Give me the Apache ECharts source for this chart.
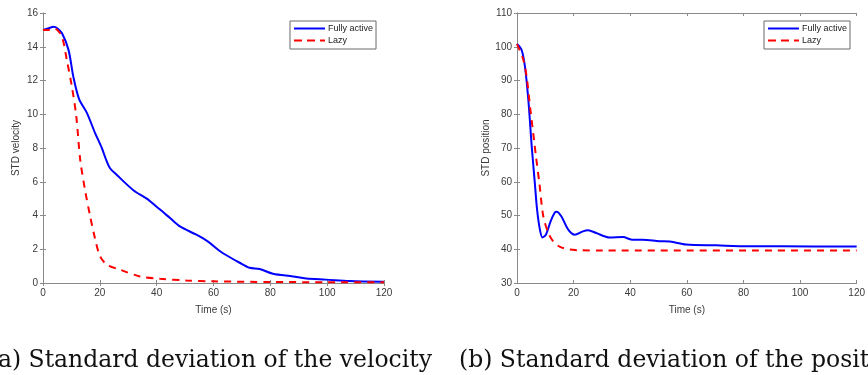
<!DOCTYPE html>
<html>
<head>
<meta charset="utf-8">
<script src="https://cdn.jsdelivr.net/npm/echarts@6/dist/echarts.min.js"></script>
<style>
html,body{margin:0;padding:0;background:#fff;}
#chart{width:868px;height:375px;}
</style>
</head>
<body>
<div id="chart"></div>
<script>
// ---- Data ----
var velActiveT = [0,2,3.7,5,6.7,9,10.7,12.7,15.4,18.3,20.7,22,23.6,26,31.8,36.5,41.2,44.7,48.2,54,58.1,62.2,65,69.2,72.7,76.2,80.9,88,92.6,99.6,107.8,120];
var velActiveV = [15.0,15.1,15.18,15.1,14.8,13.8,12.2,10.9,10.1,8.9,8.0,7.4,6.8,6.4,5.5,5.0,4.35,3.85,3.35,2.86,2.45,1.9,1.6,1.2,0.9,0.83,0.55,0.39,0.26,0.2,0.12,0.07];
var velLazyT = [0,2,3.7,5,6.7,8.4,10.2,11.7,13.1,14.8,16.6,18.4,20.1,22.5,27.1,34.1,41.2,50.5,60,80,100,120];
var velLazyV = [15.0,15.0,15.1,15.0,14.6,13.2,11.6,9.9,7.3,5.5,3.95,2.57,1.58,1.08,0.79,0.39,0.25,0.15,0.1,0.06,0.05,0.05];

var posActiveT = [0,1.6,2.8,4,5.2,6.3,7.1,8.1,9,10.2,11.9,13.3,14,15.7,18.1,20.4,23.3,25.1,28,32.7,37.4,40.9,44.4,50.3,54,59.7,70.3,82,105,120];
var posActiveV = [100.8,99.1,94.2,84.3,70.5,59.6,51.7,45.8,43.5,44.3,48.3,50.8,51.1,49.7,45.8,44.3,45.3,45.6,44.8,43.5,43.6,42.8,42.8,42.4,42.3,41.4,41.15,40.9,40.85,40.85];
var posLazyT = [0,2.2,3.4,4.6,6,6.7,7.9,9.3,11.1,12.8,15.2,18.7,22.2,30,120];
var posLazyV = [100.8,96.2,91.2,82.3,72.5,67.5,59.6,49.7,44.8,42.3,40.7,39.9,39.7,39.6,39.6];

var seriesNames = ['Fully active','Lazy'];
var xTitle = 'Time (s)';
var yTitles = ['STD velocity','STD position'];
var captions = ['(a) Standard deviation of the velocity','(b) Standard deviation of the position'];
var xTicks = {min:0,max:120,interval:20};
var yTicksVel = {min:0,max:16,interval:2};
var yTicksPos = {min:30,max:110,interval:10};

function pairs(t,v){ return t.map(function(x,i){return [x,v[i]];}); }

var axisGray = '#8a8a8a';
var labelColor = '#3a3a3a';
var font = 'Liberation Sans, Arial, sans-serif';

function xAxes(gi){
  return [
    {type:'value',gridIndex:gi,position:'bottom',min:xTicks.min,max:xTicks.max,interval:xTicks.interval,
     name:xTitle,nameLocation:'middle',nameGap:22,nameTextStyle:{fontSize:10,color:labelColor,fontFamily:font},
     axisLine:{show:true,lineStyle:{color:axisGray,width:1}},
     axisTick:{show:true,inside:true,length:3,lineStyle:{color:axisGray}},
     axisLabel:{show:true,margin:5,fontSize:10,color:labelColor,fontFamily:font},
     splitLine:{show:false}},
    {type:'value',gridIndex:gi,position:'top',min:xTicks.min,max:xTicks.max,interval:xTicks.interval,
     axisLine:{show:true,lineStyle:{color:axisGray,width:1}},
     axisTick:{show:true,inside:true,length:3,lineStyle:{color:axisGray}},
     axisLabel:{show:false},splitLine:{show:false}}
  ];
}
function yAxes(gi,tk,title){
  return [
    {type:'value',gridIndex:gi,position:'left',min:tk.min,max:tk.max,interval:tk.interval,
     name:title,nameLocation:'middle',nameGap:22,nameRotate:90,nameTextStyle:{fontSize:10,color:labelColor,fontFamily:font},
     axisLine:{show:true,lineStyle:{color:axisGray,width:1}},
     axisTick:{show:true,inside:true,length:3,lineStyle:{color:axisGray}},
     axisLabel:{show:true,margin:5,fontSize:10,color:labelColor,fontFamily:font},
     splitLine:{show:false}},
    {type:'value',gridIndex:gi,position:'right',min:tk.min,max:tk.max,interval:tk.interval,
     axisLine:{show:true,lineStyle:{color:axisGray,width:1}},
     axisTick:{show:true,inside:true,length:3,lineStyle:{color:axisGray}},
     axisLabel:{show:false},splitLine:{show:false}}
  ];
}

function mkSeries(name,data,gi,color,dashed){
  return {type:'line',name:name,xAxisIndex:gi*2,yAxisIndex:gi*2,data:data,
    showSymbol:false,symbol:'none',smooth:0.3,
    lineStyle:{color:color,width:2,type:dashed?[7,6]:'solid'},
    itemStyle:{color:color},
    animation:false};
}

var solidIcon = 'path://M0,0H31V2H0Z';
var dashIcon = 'path://M0,0H8V2H0Z M13,0H21V2H13Z M26,0H31V2H26Z';

function mkLegend(right){
  return {show:true,right:right,top:21,orient:'vertical',
    data:[{name:seriesNames[0],icon:solidIcon},{name:seriesNames[1],icon:dashIcon}],
    backgroundColor:'#fff',borderColor:'#6a6a6a',borderWidth:1,borderRadius:0,
    padding:[3,3,4,4],itemGap:3,itemWidth:31,itemHeight:10,
    textStyle:{fontSize:9,color:'#222',fontFamily:font,padding:[0,0,0,-2]},
    selectedMode:false};
}

var chart = echarts.init(document.getElementById('chart'),null,{renderer:'canvas'});
var option = {
  animation:false,
  backgroundColor:'#fff',
  grid:[
    {left:43,top:13,width:341,height:270,show:false},
    {left:517,top:13,width:341,height:270,show:false}
  ],
  xAxis: xAxes(0).concat(xAxes(1)),
  yAxis: yAxes(0,yTicksVel,yTitles[0]).concat(yAxes(1,yTicksPos,yTitles[1])),
  legend:[mkLegend(868-376), mkLegend(868-850)],
  series:[
    mkSeries(seriesNames[0],pairs(velActiveT,velActiveV),0,'#0000ff',false),
    mkSeries(seriesNames[1],pairs(velLazyT,velLazyV),0,'#ff0000',true),
    mkSeries(seriesNames[0],pairs(posActiveT,posActiveV),1,'#0000ff',false),
    mkSeries(seriesNames[1],pairs(posLazyT,posLazyV),1,'#ff0000',true)
  ],
  graphic:[
    {type:'text',right:868-432,top:349,style:{text:captions[0],fontSize:23.5,fontFamily:'DejaVu Serif, serif',fill:'#111'}},
    {type:'text',left:459,top:349,style:{text:captions[1],fontSize:23.5,fontFamily:'DejaVu Serif, serif',fill:'#111'}}
  ]
};
chart.setOption(option);
</script>
</body>
</html>
